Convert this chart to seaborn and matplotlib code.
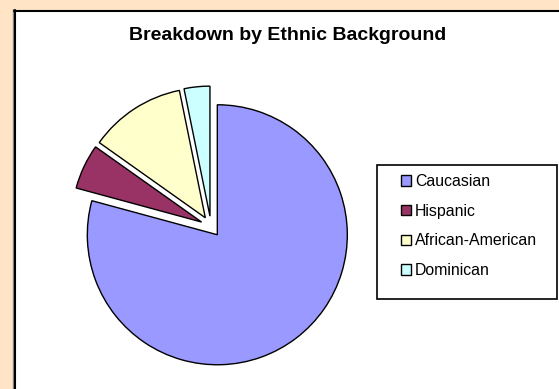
import matplotlib
matplotlib.use("Agg")
import matplotlib.pyplot as plt
import seaborn as sns
from matplotlib.patches import Rectangle
from matplotlib.lines import Line2D

categories = ["Caucasian", "Hispanic", "African-American", "Dominican"]
values = [79.3, 5.6, 12.0, 3.2]
colors = ["#9999FF", "#993366", "#FFFFCC", "#CCFFFF"]
title = "Breakdown by Ethnic Background"

sns.set_style("white")
plt.rcParams['font.family'] = ['Liberation Sans', 'DejaVu Sans']
plt.rcParams['text.color'] = 'black'

W, H = 559, 389
fig = plt.figure(figsize=(W / 100, H / 100), dpi=100)
fig.patch.set_facecolor("#FFE4C6")

bg = fig.add_axes([0, 0, 1, 1])
bg.set_xlim(0, W)
bg.set_ylim(H, 0)
bg.axis("off")
bg.patch.set_alpha(0)
bg.add_patch(Rectangle((14, 10), W, H, facecolor="white", edgecolor="none", zorder=0))
bg.add_line(Line2D([13, 13], [9, H], color="#888888", lw=1, zorder=1))
bg.add_line(Line2D([14.5, 14.5], [10, H], color="black", lw=1.5, zorder=2))
bg.add_line(Line2D([14, W], [10.5, 10.5], color="black", lw=1.5, zorder=2))
bg.add_patch(Rectangle((377, 165), 180, 134, facecolor="white", edgecolor="black", lw=1.2, zorder=3))
bg.text(287.5, 35, title, ha="center", va="center", fontsize=14, fontweight="bold",
        color="black", zorder=4)

R = 130
L = 1.5
cx, cy = 211, 226.5
side = 2 * L * R
ax = fig.add_axes([(cx - side / 2) / W, ((H - cy) - side / 2) / H, side / W, side / H])
wedges, _ = ax.pie(values, colors=colors, startangle=90, counterclock=False,
                   explode=[0.08] * len(values),
                   wedgeprops=dict(edgecolor="black", linewidth=1.0))
ax.set_xlim(-L, L)
ax.set_ylim(-L, L)
ax.set_aspect("equal")
ax.axis("off")
ax.patch.set_alpha(0)

leg = bg.legend(wedges, categories, loc="upper left", bbox_to_anchor=(401, 174),
                bbox_transform=bg.transData, frameon=False, fontsize=11.4,
                borderpad=0, borderaxespad=0, handlelength=0.63, handleheight=0.63,
                handletextpad=0.25, labelspacing=0.93, labelcolor="black")
leg.set_zorder(5)

fig.savefig("out.png", dpi=100, facecolor=fig.get_facecolor())
